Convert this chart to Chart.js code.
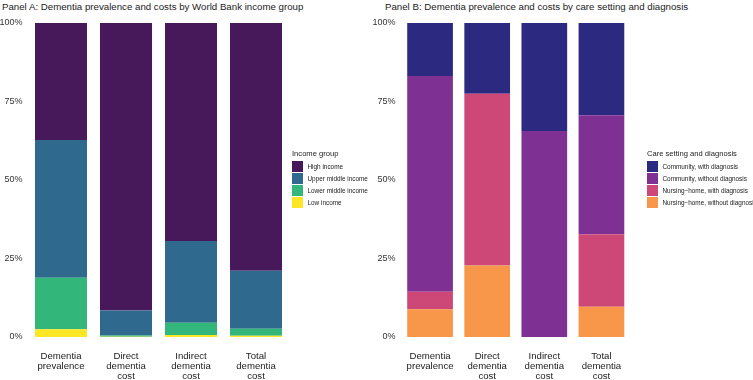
<!DOCTYPE html>
<html>
<head>
<meta charset="utf-8">
<script src="https://cdn.jsdelivr.net/npm/chart.js@4/dist/chart.umd.min.js"></script>
<style>
  body { margin: 0; background: #fff; font-family: "Liberation Sans", Arial, sans-serif; }
  #wrap { position: relative; width: 753px; height: 380px; overflow: hidden; }
  .panel { position: absolute; top: 0; height: 380px; }
  .title { position: absolute; top: 1px; font-size: 9.7px; color: #222; white-space: nowrap; }
  .legend { position: absolute; top: 149px; color: #222; }
  .legend .lt { font-size: 7.6px; margin-bottom: 3px; white-space: nowrap; }
  .legend .row { display: flex; align-items: center; height: 11.75px; }
  .legend .sw { width: 11px; height: 11px; margin-right: 4.5px; }
  .legend .lb { font-size: 6.4px; white-space: nowrap; }
</style>
</head>
<body>
<div id="wrap">
  <div class="title" style="left:2px">Panel A: Dementia prevalence and costs by World Bank income group</div>
  <div class="title" style="left:385px">Panel B: Dementia prevalence and costs by care setting and diagnosis</div>
  <div class="panel" style="left:0;width:370px"><canvas id="chartA"></canvas></div>
  <div class="panel" style="left:370px;width:383px"><canvas id="chartB"></canvas></div>
  <div class="legend" id="legendA" style="left:292px"></div>
  <div class="legend" id="legendB" style="left:647px"></div>
</div>
<script>
// categories (x axis)
const categories = [
  ['Dementia', 'prevalence'],
  ['Direct', 'dementia', 'cost'],
  ['Indirect', 'dementia', 'cost'],
  ['Total', 'dementia', 'cost']
];
const yTicks = [0, 25, 50, 75, 100];

// Panel A: income group shares (%)
const incomeGroups = ['High income', 'Upper middle income', 'Lower middle income', 'Low income'];
const incomeColors = ['#47195a', '#2f6a8e', '#33b67a', '#fde725'];
const highIncome = [37.3, 91.6, 69.4, 78.9];
const upperMiddleIncome = [43.8, 7.9, 26.1, 18.5];
const lowerMiddleIncome = [16.4, 0.4, 3.9, 2.2];
const lowIncome = [2.5, 0.1, 0.6, 0.4];

// Panel B: care setting and diagnosis shares (%)
const careGroups = ['Community, with diagnosis', 'Community, without diagnosis', 'Nursing\u2212home, with diagnosis', 'Nursing\u2212home, without diagnosis'];
const careColors = ['#2c2a80', '#7e3193', '#cd4877', '#f8964a'];
const communityWithDx = [16.9, 22.5, 34.4, 29.4];
const communityWithoutDx = [68.7, 0, 65.6, 37.9];
const nursingWithDx = [5.6, 54.7, 0, 23.1];
const nursingWithoutDx = [8.8, 22.8, 0, 9.6];

function makeChart(id, seriesTop, names, colors, yWidth, padRight, legendId, legendTitle) {
  // stacked bottom-up: last legend entry is the bottom segment
  const datasets = [];
  for (let i = seriesTop.length - 1; i >= 0; i--) {
    datasets.push({
      label: names[i],
      data: seriesTop[i],
      backgroundColor: colors[i],
      borderWidth: 0,
      barPercentage: 0.8,
      categoryPercentage: 1.0
    });
  }

  new Chart(document.getElementById(id), {
    type: 'bar',
    data: { labels: categories, datasets: datasets },
    options: {
      responsive: true,
      maintainAspectRatio: false,
      animation: false,
      layout: { padding: { top: 23, right: padRight, left: 0, bottom: 0 } },
      plugins: { legend: { display: false }, tooltip: { enabled: false } },
      scales: {
        x: {
          stacked: true,
          grid: { display: false, drawTicks: false },
          border: { display: false },
          ticks: {
            color: '#222',
            padding: 14,
            maxRotation: 0,
            autoSkip: false,
            font: { family: '"Liberation Sans", Arial, sans-serif', size: 9.6, lineHeight: 1.05 }
          },
          afterFit: s => { s.height = 43; }
        },
        y: {
          stacked: true,
          min: 0,
          max: 100,
          grid: { display: false, drawTicks: false },
          border: { display: false },
          afterBuildTicks: s => { s.ticks = yTicks.map(v => ({ value: v })); },
          ticks: {
            color: '#333',
            padding: 6,
            callback: v => v + '%',
            font: { family: '"Liberation Sans", Arial, sans-serif', size: 9 }
          },
          afterFit: s => { s.width = yWidth; }
        }
      }
    }
  });

  let html = '<div class="lt">' + legendTitle + '</div>';
  names.forEach((n, i) => {
    html += '<div class="row"><div class="sw" style="background:' + colors[i] + '"></div><div class="lb">' + n + '</div></div>';
  });
  document.getElementById(legendId).innerHTML = html;
}

makeChart('chartA', [highIncome, upperMiddleIncome, lowerMiddleIncome, lowIncome],
  incomeGroups, incomeColors, 28.5, 81.5, 'legendA', 'Income group');
makeChart('chartB', [communityWithDx, communityWithoutDx, nursingWithDx, nursingWithoutDx],
  careGroups, careColors, 31.5, 123, 'legendB', 'Care setting and diagnosis');
</script>
</body>
</html>
